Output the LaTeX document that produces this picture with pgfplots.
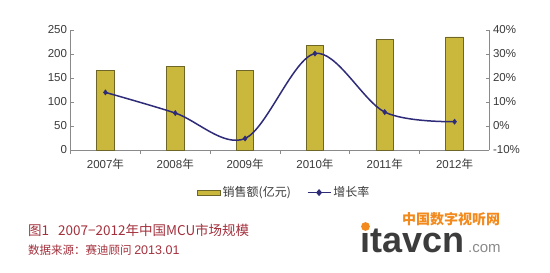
\documentclass[border=0pt]{standalone}
\usepackage{pgfplots}
\pgfplotsset{compat=1.18}
\usepackage{fontspec}
\setmainfont{Liberation Sans}
\newfontfamily\cjk{Noto Sans CJK SC}
\definecolor{barfill}{HTML}{C9B83C}
\definecolor{baredge}{HTML}{6E6628}
\definecolor{linenavy}{HTML}{2E2B78}
\definecolor{axisgray}{HTML}{8A8A8A}
\definecolor{txt}{HTML}{3A3A3A}
\definecolor{capred}{HTML}{A3303C}
\definecolor{wmorange}{HTML}{F28A1E}
\definecolor{wmgray}{HTML}{3C3C3C}
\definecolor{wmlight}{HTML}{8A8A8A}

\pgfplotstableread{
idx sales growth
0   166   14.0
1   175   5.4
2   165   -5.2
3   217   30.2
4   231   5.8
5   235.5 1.8
}\mcudata

\begin{document}
\begin{tikzpicture}
\path[use as bounding box] (0pt,0pt) rectangle (550pt,-273pt);
\pgfplotsset{
  common/.style={
    scale only axis, width=419pt, height=120pt,
    at={(70.5pt,-150pt)}, anchor=south west,
    xmin=-0.5, xmax=5.5,
    tick label style={font=\fontsize{11.5}{12}\selectfont, text=txt},
    /pgf/number format/assume math mode=true,
    axis line style={axisgray, line width=0.9pt},
    tick style={axisgray, line width=0.7pt},
    tick align=inside, major tick length=3.5pt, minor tick length=3.5pt,
    clip=false,
  }
}
% sales bars, left axis
\begin{axis}[common,
  axis y line*=left, axis x line*=bottom,
  ymin=0, ymax=250, ytick={0,50,...,250},
  xtick={0,...,5},
  xticklabels={2007{\cjk 年},2008{\cjk 年},2009{\cjk 年},2010{\cjk 年},2011{\cjk 年},2012{\cjk 年}},
  major x tick style={draw=none},
  minor xtick={-0.5,0.5,1.5,2.5,3.5,4.5},
  x tick label style={yshift=-2pt},
  ybar, bar width=17.5pt,
]
\addplot[fill=barfill, draw=baredge, line width=0.7pt] table[x=idx, y=sales] {\mcudata};
\end{axis}
% growth rate line, right axis
\begin{axis}[common,
  axis y line*=right, axis x line=none,
  ymin=-10, ymax=40, ytick={-10,0,...,40},
  yticklabel={\pgfmathprintnumber{\tick}\%},
  legend style={at={(0.51,-0.355)}, anchor=center, draw=none, fill=none,
    legend columns=2, font=\fontsize{12}{13}\selectfont\cjk, text=txt,
    /tikz/every even column/.append style={column sep=14pt}},
  legend cell align=left,
]
\addlegendimage{area legend, fill=barfill, draw=baredge, line width=0.7pt,
  legend image code/.code={\draw[fill=barfill, draw=baredge, line width=0.7pt] (0pt,-2.5pt) rectangle (23pt,2.5pt);}}
\addlegendentry{销售额(亿元)}
\addplot[linenavy, line width=1.5pt, smooth, tension=0.55, mark=diamond*, mark size=2.6pt,
  mark options={fill=linenavy, line width=0.5pt},
  legend image code/.code={\draw[linenavy, line width=1.5pt] (0pt,0pt) -- (23pt,0pt); \fill[linenavy] (11.5pt,2.4pt) -- (13.5pt,0pt) -- (11.5pt,-2.4pt) -- (9.5pt,0pt) -- cycle;}]
  table[x=idx, y=growth] {\mcudata};
\addlegendentry{增长率}
\end{axis}
% caption and source
\node[anchor=base west, text=capred, font=\fontsize{13.5}{14}\selectfont\cjk, inner sep=0] at (28pt,-235pt) {图1\hspace{9pt}2007−2012年中国MCU市场规模};
\node[anchor=base west, text=capred, font=\fontsize{11.5}{12}\selectfont\cjk, inner sep=0] at (28pt,-254pt) {数据来源：赛迪顾问 \textrm{\fontsize{12.5}{13}\selectfont 2013.01}};
% site mark
\node[anchor=base west, text=wmorange, font=\fontsize{14}{15}\selectfont\cjk\bfseries, inner sep=0] at (402pt,-224pt) {中国数字视听网};
\node[anchor=base west, text=wmgray, font=\fontsize{36}{38}\selectfont\bfseries, inner sep=0] at (360pt,-252pt) {ıtavcn};
\fill[wmorange] (365.5pt,-226.5pt) circle (4.4pt);
\node[anchor=base west, text=wmlight, font=\fontsize{15}{16}\selectfont, inner sep=0] at (468pt,-252pt) {.com};
\end{tikzpicture}
\end{document}
